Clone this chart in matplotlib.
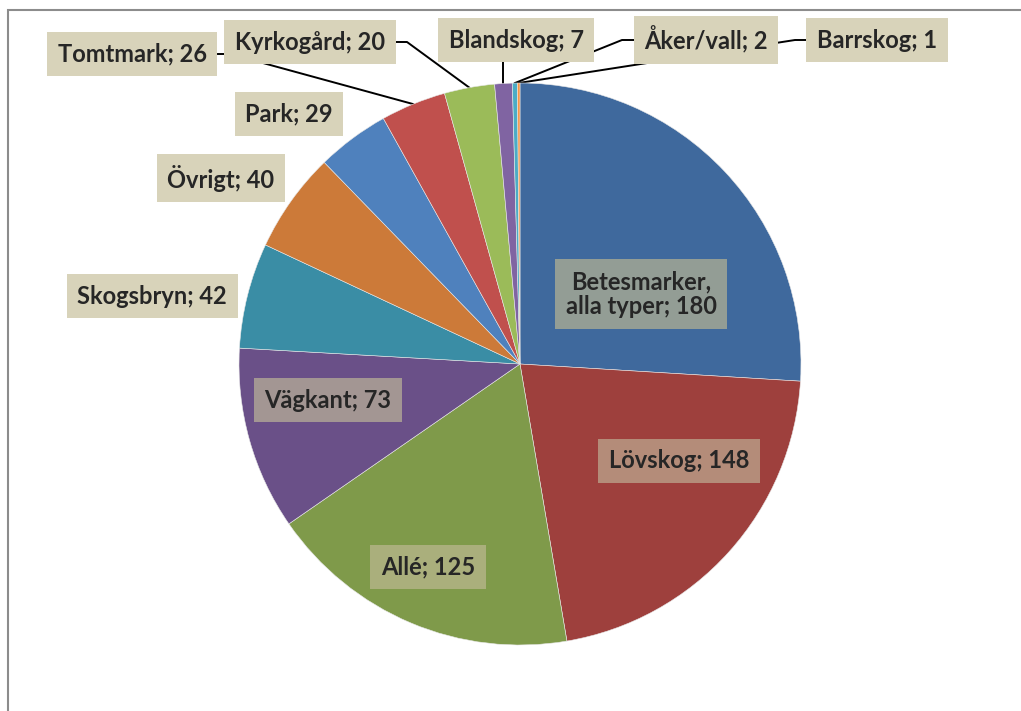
import numpy as np
import matplotlib.pyplot as plt
from matplotlib.patches import Rectangle

# ------------------------------------------------------------
# Data
# ------------------------------------------------------------
categories = ["Betesmarker,\nalla typer", "Lövskog", "Allé", "Vägkant", "Skogsbryn",
              "Övrigt", "Park", "Tomtmark", "Kyrkogård", "Blandskog",
              "Åker/vall", "Barrskog"]
values = [180, 148, 125, 73, 42, 40, 29, 26, 20, 7, 2, 1]

colors = ["#3F699D", "#9E403D", "#7F9A4A", "#6A5088", "#3A8DA5", "#CC7A39",
          "#4F81BD", "#C0504D", "#9BBB59", "#8064A2", "#4BACC6", "#F79646"]

# label box centre (pixels in image, y from top) and box colour
label_pos = [(641, 294), (679, 461), (428, 567), (328, 400), (152, 296),
             (221, 178), (289, 114), (132, 54), (310, 42), (516, 40),
             (706, 40), (877, 40)]
box_colors = ["#939D95", "#B48C79", "#AAAF7C", "#A39693"] + ["#D8D3BA"] * 8

W, H = 1021, 711
cx, cy, r = 520, H - 364, 281

plt.rcParams['font.family'] = ['Lato', 'DejaVu Sans']

fig = plt.figure(figsize=(W / 100, H / 100), dpi=100)
ax = fig.add_axes([0, 0, 1, 1])

# chart frame
fig.patches.append(Rectangle((8 / W, -0.1), 1.2, (H - 10) / H + 0.1,
                             transform=fig.transFigure, fill=False,
                             edgecolor="#8C8C8C", linewidth=1.5))

wedges, _ = ax.pie(values, colors=colors, startangle=90, counterclock=False,
                   center=(cx, cy), radius=r, frame=True,
                   wedgeprops=dict(edgecolor="#E8E8E8", linewidth=0.4))
ax.set_xlim(0, W)
ax.set_ylim(0, H)
ax.set_aspect('equal')
ax.axis('off')

for i, (cat, val) in enumerate(zip(categories, values)):
    x, y = label_pos[i]
    y = H - y
    ax.text(x, y, f"{cat}; {val}", ha="center", va="center", fontsize=17,
            fontweight="bold", color="#262626", linespacing=1.1,
            bbox=dict(boxstyle="square,pad=0.45", facecolor=box_colors[i],
                      edgecolor="none"))

# leader lines for the small outside slices
total = sum(values)
cum = np.cumsum([0] + values[:-1])
leader = {7: ("right", 230), 8: ("right", 407), 10: ("left", 622), 11: ("left", 795)}
for i, (side, xk) in leader.items():
    mid = cum[i] + values[i] / 2
    ang = np.deg2rad(90 - 360 * mid / total)
    px, py = cx + r * np.cos(ang), cy + r * np.sin(ang)
    lx, ly = label_pos[i]
    ly = H - ly
    x0 = xk - 12 if side == "right" else xk + 12
    ax.plot([x0, xk, px], [ly, ly, py], color="black", lw=1.4, zorder=0.5)

# Blandskog: vertical leader
mid = cum[9] + values[9] / 2
ang = np.deg2rad(90 - 360 * mid / total)
px, py = cx + r * np.cos(ang), cy + r * np.sin(ang)
ax.plot([px, px], [H - 60, py], color="black", lw=1.4, zorder=0.5)

plt.savefig("out.png", dpi=100)
